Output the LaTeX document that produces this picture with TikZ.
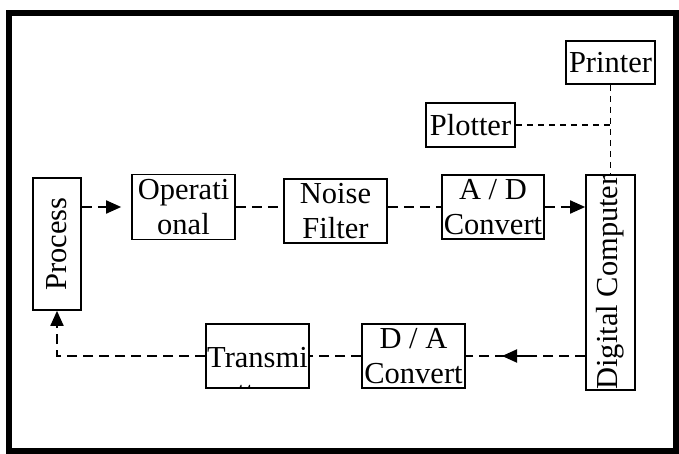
\documentclass[tikz,border=0pt]{standalone}
\usepackage{fontspec}
\setmainfont{Liberation Serif}
\usetikzlibrary{arrows.meta}
\begin{document}
\begin{tikzpicture}[x=1pt,y=-1pt,
  box/.style={draw,line width=1.7pt,inner sep=0pt,align=center,
    font=\fontsize{30.5}{35}\selectfont},
  txt/.style={inner sep=0pt,align=center,font=\fontsize{30.5}{35}\selectfont},
  dline/.style={line width=1.9pt,dash pattern=on 10pt off 6pt},
  pdash/.style={line width=1.4pt,dash pattern=on 6pt off 5pt},
  tip/.style={-{Triangle[length=15pt,width=13pt]}}
]
\useasboundingbox (0,0) rectangle (679,454);
\draw[line width=6pt] (8.5,13) rectangle (676,451);

\node[box,minimum width=89pt,minimum height=43pt] (printer) at (610.5,62.5) {Printer};
\node[box,minimum width=89pt,minimum height=44pt] (plotter) at (470.5,125) {Plotter};
\node[box,rotate=90,minimum width=132pt,minimum height=48pt] (process) at (57,244) {Process};
\node[box,minimum width=103pt,minimum height=65pt] (op) at (183.5,207) {Operati\\onal};
\node[box,minimum width=103pt,minimum height=64pt] (noise) at (335.5,211) {Noise\\Filter};
\node[box,minimum width=102pt,minimum height=64pt] (ad) at (493,207) {A / D\\Convert};
\node[box,rotate=90,minimum width=211pt,minimum height=49pt] (digital) at (610.5,282.5) {Digital Computer};
\node[box,minimum width=103pt,minimum height=64pt] (da) at (413.5,356) {D / A\\Convert};
\node[box,minimum width=103pt,minimum height=64pt] (trans) at (257.5,356) {};
\begin{scope}
  \clip (trans.south west) rectangle (trans.north east);
  \node[txt,anchor=base] (trans1) at (257.5,367) {Transmi};
  \node[txt,anchor=base] (trans2) at (257.5,402) {tter};
\end{scope}

% top chain (process.south is its right side, digital.north its left side)
\draw[dline,tip,shorten >=10pt] (op.west -| process.south) -- (op.west);
\draw[dline] (op.east) -- (op.east -| noise.west);
\draw[dline] (ad.west -| noise.east) -- (ad.west);
\draw[dline,tip] (ad.east) -- (ad.east -| digital.north);

% printer / plotter
\coordinate (pj) at (printer.south |- plotter.east);
\draw[pdash] (plotter.east) -- (pj);
\draw[pdash] (printer.south) -- (digital.east);

% bottom chain
\draw[dline] (da.east -| digital.north) -- (da.east);
\coordinate (ahs) at (537,356);
\coordinate (ahe) at (502,356);
\draw[line width=1.9pt,tip] (ahs) -- (ahe);
\draw[dline] (da.west) -- (trans.east);
\coordinate (corner) at (process.west |- trans.west);
\draw[dline,tip] (trans.west) -- (corner) -- (process.west);
\end{tikzpicture}
\end{document}
